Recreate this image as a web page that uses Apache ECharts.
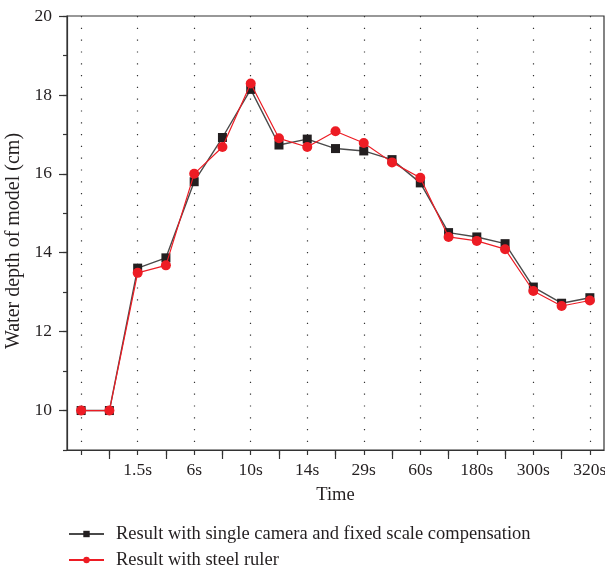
<!DOCTYPE html>
<html>
<head>
<meta charset="utf-8">
<script src="https://cdn.jsdelivr.net/npm/echarts@6/dist/echarts.min.js"></script>
<style>
  html, body { margin: 0; padding: 0; background: #fff; }
  #chart { width: 605px; height: 568px; }
</style>
</head>
<body>
<div id="chart"></div>
<script>
// Time steps along the x axis; only every other step carries a label
const timeLabels = ['', '', '1.5s', '', '6s', '', '10s', '', '14s', '', '29s', '', '60s', '', '180s', '', '300s', '', '320s'];
const stepIndex = timeLabels.map((_, i) => String(i));

// Depth scale steps (cm), used for the long ticks on even values
const depthSteps = ['9', '10', '11', '12', '13', '14', '15', '16', '17', '18', '19', '20'];

// Water depth (cm) measured by each method
const cameraDepth = [10, 10, 13.61, 13.87, 15.80, 16.92, 18.14, 16.73, 16.88, 16.64, 16.58, 16.36, 15.77, 14.51, 14.40, 14.23, 13.13, 12.72, 12.86];
const rulerDepth  = [10, 10, 13.49, 13.68, 16.00, 16.68, 18.29, 16.90, 16.68, 17.08, 16.78, 16.29, 15.90, 14.40, 14.30, 14.09, 13.03, 12.65, 12.79];

const cameraName = 'Result with single camera and fixed scale compensation';
const rulerName = 'Result with steel ruler';

const serif = '"Liberation Serif", "DejaVu Serif", serif';
const textColor = '#231f20';
const axisColor = '#333';

const chart = echarts.init(document.getElementById('chart'), null, { renderer: 'canvas' });

const legendBase = {
  orient: 'vertical',
  left: 68,
  padding: 0,
  itemWidth: 35, itemHeight: 8,
  textStyle: { fontFamily: serif, fontSize: 18.5, lineHeight: 20, color: textColor, padding: [0, 0, 0, 7] }
};

chart.setOption({
  animation: false,
  textStyle: { fontFamily: serif, color: textColor },
  grid: {
    left: 67, top: 16, right: 1, bottom: 118,
    containLabel: false,
    outerBoundsMode: 'none',
    show: true, borderColor: axisColor, borderWidth: 1.2, backgroundColor: 'transparent'
  },
  legend: [
    Object.assign({}, legendBase, { top: 524, data: [cameraName] }),
    Object.assign({}, legendBase, { top: 550, data: [rulerName] })
  ],
  xAxis: [
    {
      type: 'category',
      data: stepIndex,
      boundaryGap: true,
      name: 'Time',
      nameLocation: 'middle',
      nameGap: 36,
      nameTextStyle: { fontFamily: serif, fontSize: 18.5, color: textColor },
      axisLine: { lineStyle: { color: axisColor, width: 1.2 } },
      axisTick: { show: true, alignWithLabel: true, interval: 0, length: 5, lineStyle: { color: axisColor, width: 1.2 } },
      axisLabel: {
        interval: 0, margin: 11,
        fontFamily: serif, fontSize: 17.5, color: textColor,
        formatter: (v, i) => timeLabels[i]
      },
      splitLine: {
        show: true, alignWithLabel: true,
        interval: (i) => i % 2 === 0,
        lineStyle: { color: axisColor, width: 1.2, type: [1.2, 10.6] }
      }
    },
    {
      // long ticks between the labelled steps
      type: 'category',
      data: stepIndex,
      boundaryGap: true,
      position: 'bottom',
      axisLine: { show: false },
      axisTick: { show: true, alignWithLabel: true, interval: (i) => i % 2 === 1, length: 9, lineStyle: { color: axisColor, width: 1.2 } },
      axisLabel: { show: false },
      splitLine: { show: false }
    }
  ],
  yAxis: [
    {
      type: 'value',
      min: 9, max: 20, interval: 1,
      name: 'Water depth of model (cm)',
      nameLocation: 'middle',
      nameGap: 42,
      nameTextStyle: { fontFamily: serif, fontSize: 20, color: textColor, padding: [0, 16, 0, 0] },
      axisLine: { show: true, lineStyle: { color: axisColor, width: 1.2 } },
      axisTick: { show: true, length: 4, lineStyle: { color: axisColor, width: 1.2 } },
      axisLabel: {
        margin: 15,
        fontFamily: serif, fontSize: 17.5, color: textColor,
        formatter: (v) => (v % 2 === 0 ? String(v) : '')
      },
      splitLine: { show: false }
    },
    {
      // long ticks at the labelled depths
      type: 'category',
      data: depthSteps,
      boundaryGap: false,
      position: 'left',
      axisLine: { show: false },
      axisTick: { show: true, interval: (i) => Number(depthSteps[i]) % 2 === 0, length: 8, lineStyle: { color: axisColor, width: 1.2 } },
      axisLabel: { show: false },
      splitLine: { show: false }
    }
  ],
  series: [
    {
      name: cameraName,
      type: 'line',
      data: cameraDepth,
      symbol: 'rect', symbolSize: 9,
      itemStyle: { color: '#231f20' },
      lineStyle: { color: '#4a4a4a', width: 1.4 },
      z: 2
    },
    {
      name: rulerName,
      type: 'line',
      data: rulerDepth,
      symbol: 'circle', symbolSize: 10,
      itemStyle: { color: '#ed1c24' },
      lineStyle: { color: '#ed1c24', width: 1.2 },
      z: 3
    }
  ]
});
</script>
</body>
</html>
